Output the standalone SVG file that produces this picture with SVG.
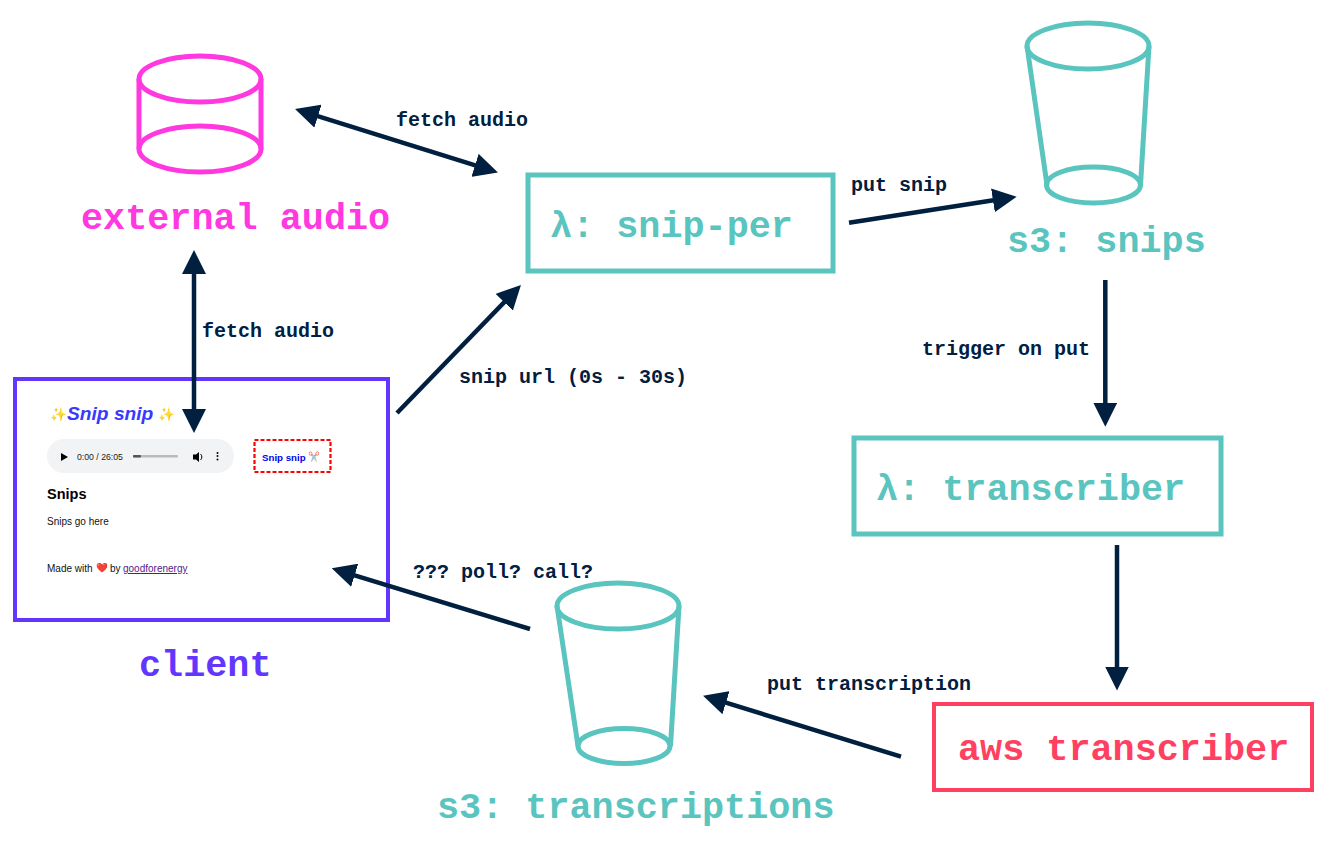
<svg xmlns="http://www.w3.org/2000/svg" width="1336" height="844" viewBox="0 0 1336 844">
<style>
.big{font:bold 36.8px "Liberation Mono",monospace}
.lab{font:bold 20px "Liberation Mono",monospace;fill:#012040}
.c{stroke:#012040;stroke-width:4.500;fill:none}
.t{fill:#5ac4bf}
.ts{stroke:#5ac4bf;stroke-width:5;fill:none}
.p{stroke:#ff38e0;stroke-width:5;fill:none}
.ui{font-family:"Liberation Sans",Arial,sans-serif}
.emo{font-family:"Noto Color Emoji","Noto Sans",sans-serif}
</style>
<defs>
<marker id="a" viewBox="0 0 24 24" refX="12" refY="12" markerWidth="24" markerHeight="24" markerUnits="userSpaceOnUse" orient="auto-start-reverse"><path d="M0 0L24 12L0 24Z" fill="#012040"/></marker>
</defs>
<rect width="1336" height="844" fill="#fff"/>
<g id="external-audio">
<ellipse class="p" cx="200" cy="79" rx="61" ry="23"/>
<ellipse class="p" cx="200" cy="149" rx="61" ry="23"/>
<path class="p" d="M139 79V149M261 79V149"/>
<text class="big" x="81" y="229" fill="#ff38e0">external audio</text>
</g>
<g id="snip-per">
<rect class="ts" x="528" y="175" width="305" height="96"/>
<text class="big t" x="550" y="237">λ: snip-per</text>
</g>
<g id="s3-snips">
<ellipse class="ts" cx="1088" cy="46" rx="61" ry="23"/>
<ellipse class="ts" cx="1093.500" cy="185" rx="47" ry="18"/>
<path class="ts" d="M1027 46L1047 185M1149 46L1140.500 185"/>
<text class="big t" x="1007" y="252">s3: snips</text>
</g>
<g id="transcriber">
<rect class="ts" x="854" y="438" width="367" height="96"/>
<text class="big t" x="876" y="500">λ: transcriber</text>
</g>
<g id="aws-transcriber">
<rect x="934" y="704" width="378" height="86" fill="none" stroke="#ff4060" stroke-width="4"/>
<text class="big" x="958" y="760" fill="#ff4060">aws transcriber</text>
</g>
<g id="s3-transcriptions">
<ellipse class="ts" cx="618" cy="606" rx="61" ry="23"/>
<ellipse class="ts" cx="624" cy="746" rx="46" ry="17.500"/>
<path class="ts" d="M557 606L578 746M679 606L670.500 746"/>
<text class="big t" x="437" y="818">s3: transcriptions</text>
</g>
<g id="client">
<rect x="15" y="379" width="373" height="241" fill="#fff" stroke="#6236ff" stroke-width="4"/>
<text class="emo" x="50" y="419" font-size="13.500">✨</text>
<text class="ui" x="67" y="420" font-size="19.200" font-weight="bold" font-style="italic" fill="#3838ff">Snip snip</text>
<text class="emo" x="158.500" y="419" font-size="13.500">✨</text>
<rect x="47" y="439" width="187" height="34" rx="17" fill="#f1f3f4"/>
<path d="M61 453L68 457L61 461Z" fill="#000"/>
<text class="ui" x="77" y="460" font-size="8.700" fill="#222">0:00 / 26:05</text>
<rect x="133" y="455" width="45" height="2.400" rx="1" fill="#bbb"/>
<rect x="133" y="455" width="8" height="2.400" rx="1" fill="#555"/>
<path d="M193 454.500h3l3-2.500v10l-3-2.500h-3Z" fill="#000"/>
<path d="M200.500 454a4 4 0 0 1 0 6" stroke="#000" fill="none"/>
<circle cx="217.500" cy="453" r="1" fill="#000"/><circle cx="217.500" cy="456" r="1" fill="#000"/><circle cx="217.500" cy="459.500" r="1" fill="#000"/>
<rect x="254.500" y="440" width="76" height="32" fill="none" stroke="#f00" stroke-width="2.200" stroke-dasharray="4 2"/>
<text class="ui" x="262" y="460.500" font-size="9.700" font-weight="bold" fill="#0000ee">Snip snip</text>
<text class="emo" x="308" y="460" font-size="9.500" opacity=".75">✂️</text>
<text class="ui" x="47" y="499" font-size="14.500" font-weight="bold" fill="#000">Snips</text>
<text class="ui" x="47" y="525" font-size="10" fill="#111">Snips go here</text>
<text class="ui" x="47" y="572" font-size="10" fill="#111">Made with</text>
<text class="emo" x="96" y="571" font-size="9.500" fill="#e33">❤️</text>
<text class="ui" x="110" y="572" font-size="10" fill="#111">by</text>
<text class="ui" x="123" y="572" font-size="10" fill="#551a8b" text-decoration="underline">goodforenergy</text>
<text class="big" x="139" y="676" fill="#6236ff">client</text>
</g>
<g id="connectors">
<line class="c" x1="306.500" y1="112.600" x2="486.500" y2="168.900" marker-start="url(#a)" marker-end="url(#a)"/>
<line class="c" x1="194" y1="262" x2="194" y2="421" marker-start="url(#a)" marker-end="url(#a)"/>
<line class="c" x1="397" y1="413" x2="512.600" y2="293.600" marker-end="url(#a)"/>
<line class="c" x1="849" y1="222.700" x2="1004.800" y2="198.500" marker-end="url(#a)"/>
<line class="c" x1="1105.300" y1="280" x2="1105.300" y2="414.700" marker-end="url(#a)"/>
<line class="c" x1="1117" y1="545" x2="1117" y2="678.500" marker-end="url(#a)"/>
<line class="c" x1="901" y1="756.700" x2="714.500" y2="699.200" marker-end="url(#a)"/>
<line class="c" x1="530" y1="629" x2="343.200" y2="571.800" marker-end="url(#a)"/>
<text class="lab" x="396" y="125.500">fetch audio</text>
<text class="lab" x="202" y="337">fetch audio</text>
<text class="lab" x="459" y="383">snip url (0s - 30s)</text>
<text class="lab" x="851" y="191">put snip</text>
<text class="lab" x="922" y="355">trigger on put</text>
<text class="lab" x="413" y="578">??? poll? call?</text>
<text class="lab" x="767" y="690">put transcription</text>
</g>
</svg>
